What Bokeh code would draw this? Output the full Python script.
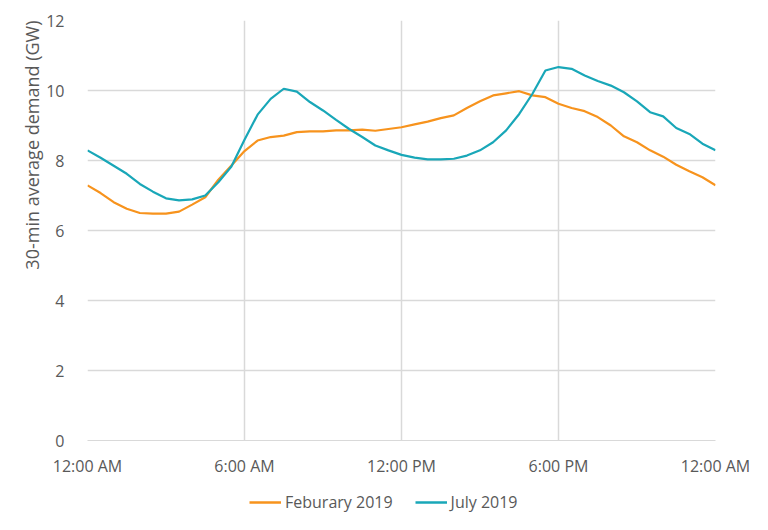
from bokeh.plotting import figure
from bokeh.models import Range1d, FixedTicker, Legend, LegendItem, Title
from bokeh.layouts import column
from bokeh.embed import file_html
from bokeh.resources import INLINE

hours = [0, 0.5, 1, 1.5, 2, 2.5, 3, 3.5, 4, 4.5, 5, 5.5, 6, 6.5, 7, 7.5, 8, 8.5, 9, 9.5,
         10, 10.5, 11, 11.5, 12, 12.5, 13, 13.5, 14, 14.5, 15, 15.5, 16, 16.5, 17, 17.5,
         18, 18.5, 19, 19.5, 20, 20.5, 21, 21.5, 22, 22.5, 23, 23.5, 24]

feb_2019 = [7.29, 7.07, 6.81, 6.62, 6.50, 6.48, 6.48, 6.54, 6.74, 6.95,
            7.45, 7.86, 8.27, 8.57, 8.67, 8.71, 8.81, 8.83, 8.83, 8.86,
            8.86, 8.88, 8.85, 8.90, 8.95, 9.03, 9.11, 9.21, 9.29, 9.50,
            9.69, 9.86, 9.92, 9.98, 9.86, 9.81, 9.62, 9.50, 9.41, 9.24,
            9.00, 8.69, 8.52, 8.29, 8.11, 7.88, 7.69, 7.52, 7.29]

jul_2019 = [8.29, 8.08, 7.85, 7.62, 7.33, 7.11, 6.92, 6.86, 6.89, 7.00,
            7.38, 7.83, 8.59, 9.31, 9.76, 10.05, 9.97, 9.67, 9.43, 9.16,
            8.90, 8.67, 8.43, 8.29, 8.16, 8.08, 8.03, 8.03, 8.05, 8.14,
            8.29, 8.52, 8.86, 9.33, 9.90, 10.57, 10.67, 10.62, 10.43, 10.27,
            10.14, 9.95, 9.69, 9.38, 9.26, 8.93, 8.76, 8.48, 8.29]

series_names = ["Feburary 2019", "July 2019"]
series_colors = ["#F7931D", "#19A7B8"]

x_ticks = [0, 6, 12, 18, 24]
x_tick_labels = ["12:00 AM", "6:00 AM", "12:00 PM", "6:00 PM", "12:00 AM"]
y_ticks = [0, 2, 4, 6, 8, 10, 12]
y_title = "30-min average demand (GW)"

FONT = "Open Sans"
GREY = "#595959"
GRID = "#d9d9d9"

p = figure(width=768, height=480, output_backend="svg", toolbar_location=None,
           x_range=Range1d(0, 24), y_range=Range1d(0, 12),
           min_border_left=87, min_border_right=53, min_border_top=20, min_border_bottom=40)
p.outline_line_color = None

p.xaxis.ticker = FixedTicker(ticks=x_ticks)
p.xaxis.major_label_overrides = {t: l for t, l in zip(x_ticks, x_tick_labels)}
p.yaxis.ticker = FixedTicker(ticks=y_ticks)

for ax in (p.xaxis, p.yaxis):
    ax.major_tick_line_color = None
    ax.minor_tick_line_color = None
    ax.major_label_text_font = FONT
    ax.major_label_text_font_size = "16px"
    ax.major_label_text_color = GREY
p.xaxis.axis_line_color = GRID
p.yaxis.axis_line_color = None
p.xaxis.major_label_standoff = 8
p.yaxis.major_label_standoff = 17

p.add_layout(Title(text=y_title, align="right", text_font=FONT, text_font_size="18px",
                   text_font_style="normal", text_color=GREY, standoff=0), "left")

p.xgrid.grid_line_color = GRID
p.ygrid.grid_line_color = GRID
p.xgrid.grid_line_width = 1.5
p.ygrid.grid_line_width = 1.5

p.line(hours, feb_2019, line_color=series_colors[0], line_width=2.2)
p.line(hours, jul_2019, line_color=series_colors[1], line_width=2.2)

# legend strip below the chart (its lines lie outside its visible range)
p2 = figure(width=768, height=50, output_backend="svg", toolbar_location=None,
            x_range=Range1d(0, 1), y_range=Range1d(0, 1),
            min_border=0, x_axis_type=None, y_axis_type=None)
p2.outline_line_color = None
p2.xgrid.visible = False
p2.ygrid.visible = False
d1 = p2.line(hours, feb_2019, line_color=series_colors[0], line_width=2.5)
d2 = p2.line(hours, jul_2019, line_color=series_colors[1], line_width=2.5)

legend = Legend(items=[LegendItem(label=series_names[0], renderers=[d1]),
                       LegendItem(label=series_names[1], renderers=[d2])],
                orientation="horizontal", location=(162, 17),
                label_text_font=FONT, label_text_font_size="16px",
                label_text_color=GREY, border_line_color=None,
                background_fill_alpha=0, glyph_width=32, glyph_height=20,
                label_height=20, spacing=22, label_standoff=4, padding=0, margin=0)
p2.add_layout(legend, "center")

layout = column(p, p2, spacing=0)
open("out.html", "w").write(file_html(layout, INLINE))
